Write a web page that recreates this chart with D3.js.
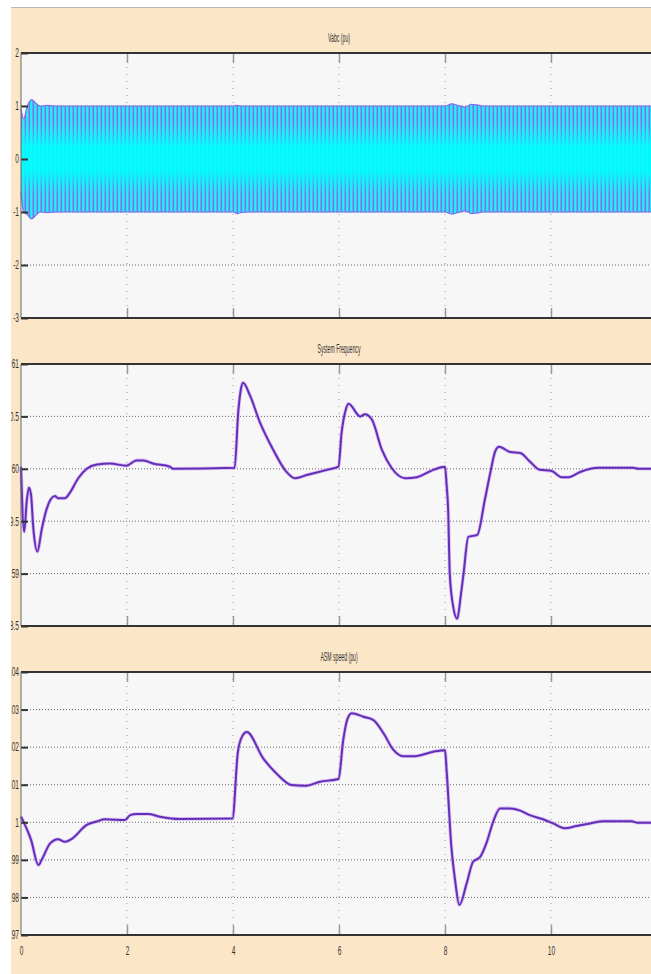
<!DOCTYPE html>
<html>
<head>
<meta charset="utf-8">
<script src="https://cdn.jsdelivr.net/npm/d3@7"></script>
<style>
body{margin:0;background:#fff}
svg{display:block}
</style>
</head>
<body>
<script>
const W = 651, H = 974

// time axis (s)
const xTicks = [0, 2, 4, 6, 8, 10, 12]
const xLabels = ['0', '2', '4', '6', '8', '10', '']

// Vabc (pu) envelope of the three phases
const tEnv   = [0, 0.05, 0.12, 0.2, 0.28, 0.36, 0.5, 0.7, 4.0, 4.08, 4.16, 4.3, 8.0, 8.13, 8.25, 8.38, 8.5, 8.6, 8.72, 12]
const vUpper = [0.95, 0.76, 1.0, 1.12, 1.05, 1.0, 1.01, 1.0, 1.0, 1.01, 1.0, 1.0, 1.0, 1.04, 1.01, 0.98, 1.03, 1.02, 1.0, 1.0]
const vLower = [-0.62, -1.0, -1.05, -1.13, -1.06, -1.0, -1.01, -1.0, -1.0, -1.03, -1.01, -1.0, -1.0, -1.04, -1.01, -0.98, -1.03, -1.02, -1.0, -1.0]
const vTicks = [2, 1, 0, -1, -2, -3]
const vLabels = ['2', '1', '0', '-1', '-2', '-3']

// System Frequency (Hz)
const tFreq = [0, 0.06, 0.11, 0.15, 0.19, 0.23, 0.31, 0.39, 0.48, 0.64, 0.70, 0.83, 0.92, 1.08, 1.24, 1.43, 1.68, 1.99, 2.18, 2.31, 2.49, 2.81, 2.87,
  4.03, 4.1, 4.15, 4.19, 4.32, 4.51, 4.76, 5.01, 5.17, 5.39, 5.77, 5.99,
  6.05, 6.12, 6.18, 6.40, 6.49, 6.62, 6.81, 6.99, 7.25, 7.47, 7.78, 8.0,
  8.03, 8.06, 8.09, 8.15, 8.23, 8.3, 8.35, 8.44, 8.61, 8.75, 8.85, 8.95, 9.02, 9.23, 9.42, 9.60, 9.79, 10.01, 10.20, 10.33, 10.55, 10.89, 11.55, 11.65, 12]
const freq = [60.02, 59.40, 59.70, 59.82, 59.75, 59.45, 59.21, 59.42, 59.61, 59.74, 59.72, 59.72, 59.77, 59.91, 60.0, 60.04, 60.05, 60.03, 60.08, 60.08, 60.05, 60.02, 60.0,
  60.01, 60.55, 60.76, 60.82, 60.70, 60.44, 60.18, 59.97, 59.91, 59.94, 59.99, 60.02,
  60.35, 60.55, 60.62, 60.50, 60.52, 60.47, 60.18, 60.01, 59.91, 59.92, 59.99, 60.02,
  59.85, 59.6, 59.0, 58.7, 58.57, 58.8, 59.0, 59.35, 59.37, 59.70, 59.95, 60.17, 60.21, 60.16, 60.15, 60.07, 59.99, 59.98, 59.92, 59.92, 59.97, 60.01, 60.01, 60.0, 60.0]
const fTicks = [61, 60.5, 60, 59.5, 59, 58.5]
const fLabels = ['61', '60.5', '60', '59.5', '59', '58.5']

// ASM speed (pu)
const tSpeed = [0, 0.19, 0.33, 0.39, 0.55, 0.70, 0.83, 0.96, 1.24, 1.43, 1.58, 1.96, 2.06, 2.18, 2.40, 2.62, 3.0,
  3.99, 4.09, 4.17, 4.26, 4.57, 4.82, 5.11, 5.36, 5.64, 5.99,
  6.08, 6.16, 6.24, 6.46, 6.65, 6.84, 7.02, 7.21, 7.43, 7.78, 8.0,
  8.03, 8.12, 8.19, 8.27, 8.41, 8.53, 8.66, 8.79, 8.91, 9.04, 9.23, 9.42, 9.60, 9.85, 10.04, 10.26, 10.48, 10.74, 10.99, 11.52, 11.62, 12]
const speed = [1.0015, 0.9953, 0.9886, 0.9900, 0.9944, 0.9955, 0.9948, 0.9956, 0.9993, 1.0002, 1.0008, 1.0006, 1.0019, 1.0022, 1.0022, 1.0015, 1.0009,
  1.0010, 1.0185, 1.0228, 1.0240, 1.0170, 1.0130, 1.0099, 1.0097, 1.0108, 1.0115,
  1.0219, 1.0275, 1.0290, 1.0281, 1.0272, 1.0237, 1.0194, 1.0176, 1.0176, 1.0188, 1.0192,
  1.0139, 0.9935, 0.9846, 0.9780, 0.9838, 0.9895, 0.9907, 0.9948, 1.0002, 1.0037, 1.0037, 1.0031, 1.0019, 1.0008, 0.9997, 0.9984, 0.9990, 0.9997, 1.0003, 1.0003, 0.9999, 0.9999]
const sTicks = [1.04, 1.03, 1.02, 1.01, 1, 0.99, 0.98, 0.97]
const sLabels = ['1.04', '1.03', '1.02', '1.01', '1', '0.99', '0.98', '0.97']

const svg = d3.select('body').append('svg').attr('width', W).attr('height', H)

svg.append('rect').attr('width', W).attr('height', H).attr('fill', '#fff')

const defs = svg.append('defs')
defs.append('clipPath').attr('id', 'fig')
  .append('rect').attr('x', 11).attr('y', 8).attr('width', W - 11).attr('height', H - 8)

let pat = defs.append('pattern').attr('id', 'stripes')
  .attr('patternUnits', 'userSpaceOnUse').attr('width', 4).attr('height', 10)
pat.append('rect').attr('width', 4).attr('height', 10).attr('fill', '#22eeff')
pat.append('rect').attr('x', 0.5).attr('width', 1.6).attr('height', 10).attr('fill', '#8472e4')

let grad = defs.append('linearGradient').attr('id', 'core')
  .attr('x1', 0).attr('y1', 0).attr('x2', 0).attr('y2', 1)
;[[0, 0], [0.2, 0], [0.4, 0.9], [0.6, 0.9], [0.8, 0], [1, 0]].forEach(s => {
  grad.append('stop').attr('offset', s[0]).attr('stop-color', '#00ffff').attr('stop-opacity', s[1])
})

svg.append('line').attr('x1', 11).attr('x2', W).attr('y1', 7.5).attr('y2', 7.5)
  .attr('stroke', '#b8b8b8').attr('stroke-width', 1)

const fig = svg.append('g').attr('clip-path', 'url(#fig)')
fig.append('rect').attr('x', 11).attr('y', 8).attr('width', W - 11).attr('height', H - 8).attr('fill', '#fce6c8')

const x = d3.scaleLinear().domain([0, 12]).range([21, 657])

function squeeze(sel, k) {
  sel.each(function () {
    let t = d3.select(this)
    let xx = +t.attr('x') || 0
    t.attr('x', xx / k).attr('transform', `scale(${k},1)`)
  })
}

function panel(top, bottom, domain, ticks, title) {
  const y = d3.scaleLinear().domain(domain).range([bottom, top])
  const g = fig.append('g')

  g.append('rect').attr('x', 21).attr('y', top).attr('width', 657 - 21).attr('height', bottom - top)
    .attr('fill', '#f7f7f7')

  // horizontal dotted grid
  g.selectAll('.hg').data(ticks.filter(d => d != domain[0] && d != domain[1])).enter()
    .append('line').attr('x1', 21).attr('x2', 657)
    .attr('y1', d => y(d)).attr('y2', d => y(d))
    .attr('stroke', '#6a6a6a').attr('stroke-width', 1).attr('stroke-dasharray', '1,2')

  // vertical dotted grid
  g.selectAll('.vg').data(xTicks.slice(1)).enter()
    .append('line').attr('x1', d => x(d)).attr('x2', d => x(d))
    .attr('y1', top).attr('y2', bottom)
    .attr('stroke', '#9a9a9a').attr('stroke-width', 1).attr('stroke-dasharray', '1,6')

  g.append('text').attr('x', 339).attr('y', top - 11)
    .attr('text-anchor', 'middle')
    .style('font-family', 'Liberation Sans, Arial, sans-serif').style('font-size', '12px').attr('fill', '#333')
    .text(title).call(squeeze, 0.43)

  return { g, y }
}

function frame(p, top, bottom, ticks, labels, showX) {
  const g = p.g, y = p.y
  const ax = g.append('g').attr('transform', 'translate(21,0)')
    .call(d3.axisLeft(y).tickValues(ticks).tickSize(-7).tickPadding(2)
      .tickFormat((d, i) => labels[i]))
  ax.select('.domain').remove()
  ax.selectAll('.tick line').attr('stroke', '#333').attr('stroke-width', 2)
  ax.selectAll('text').attr('fill', '#333')
    .style('font-family', 'Liberation Sans, Arial, sans-serif').style('font-size', '12px')
    .call(squeeze, 0.55)

  const topAx = g.append('g').attr('transform', `translate(0,${top})`)
    .call(d3.axisTop(x).tickValues(xTicks.slice(1)).tickSize(-10).tickFormat(''))
  topAx.select('.domain').remove()
  topAx.selectAll('.tick line').attr('stroke', '#999').attr('stroke-width', 1.5)

  const botAx = g.append('g').attr('transform', `translate(0,${bottom})`)
    .call(d3.axisBottom(x).tickValues(xTicks).tickSize(-10).tickPadding(11)
      .tickFormat((d, i) => showX ? xLabels[i] : ''))
  botAx.select('.domain').remove()
  botAx.selectAll('.tick line').attr('stroke', d => d == 0 ? 'none' : '#999').attr('stroke-width', 1.5)
  botAx.selectAll('text').attr('fill', '#333')
    .style('font-family', 'Liberation Sans, Arial, sans-serif').style('font-size', '12px')
    .call(squeeze, 0.55)

  g.append('line').attr('x1', 21).attr('x2', 657).attr('y1', top).attr('y2', top)
    .attr('stroke', '#333').attr('stroke-width', 2)
  g.append('line').attr('x1', 21).attr('x2', 657).attr('y1', bottom).attr('y2', bottom)
    .attr('stroke', '#333').attr('stroke-width', 2)
  g.append('line').attr('x1', 21).attr('x2', 21).attr('y1', top).attr('y2', bottom)
    .attr('stroke', '#666').attr('stroke-width', 1)
}

function trace(p, ts, vs) {
  const pts = ts.map((t, i) => [t, vs[i]])
  const line = d3.line().x(d => x(d[0])).y(d => p.y(d[1])).curve(d3.curveMonotoneX)
  p.g.append('path').attr('d', line(pts)).attr('fill', 'none')
    .attr('stroke', '#c58cf0').attr('stroke-width', 3.6).attr('stroke-opacity', 0.55)
  p.g.append('path').attr('d', line(pts)).attr('fill', 'none')
    .attr('stroke', '#6230b8').attr('stroke-width', 2)
}

// panel 1: Vabc
const p1 = panel(53, 318, [-3, 2], vTicks, 'Vabc (pu)')
const env = tEnv.map((t, i) => ({ t, hi: vUpper[i], lo: vLower[i] }))
const band = d3.area().x(d => x(d.t)).y0(d => p1.y(d.lo)).y1(d => p1.y(d.hi)).curve(d3.curveMonotoneX)
p1.g.append('path').attr('d', band(env)).attr('fill', 'url(#stripes)')
p1.g.append('path').attr('d', band(env)).attr('fill', 'url(#core)')
p1.g.append('path').attr('d', d3.line().x(d => x(d.t)).y(d => p1.y(d.hi)).curve(d3.curveMonotoneX)(env))
  .attr('fill', 'none').attr('stroke', '#7f6ee8').attr('stroke-width', 1.2)
p1.g.append('path').attr('d', d3.line().x(d => x(d.t)).y(d => p1.y(d.lo)).curve(d3.curveMonotoneX)(env))
  .attr('fill', 'none').attr('stroke', '#7f6ee8').attr('stroke-width', 1.2)
frame(p1, 53, 318, vTicks, vLabels, false)

// panel 2: frequency
const p2 = panel(364, 626, [58.5, 61], fTicks, 'System Frequency')
trace(p2, tFreq, freq)
frame(p2, 364, 626, fTicks, fLabels, false)

// panel 3: ASM speed
const p3 = panel(672, 935, [0.97, 1.04], sTicks, 'ASM speed (pu)')
trace(p3, tSpeed, speed)
frame(p3, 672, 935, sTicks, sLabels, true)
</script>
</body>
</html>
